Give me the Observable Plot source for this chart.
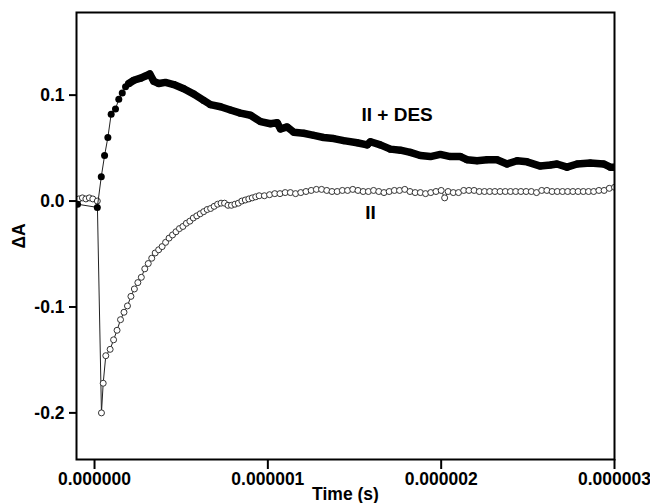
<!DOCTYPE html>
<html>
<head>
<meta charset="utf-8">
<script src="https://cdn.jsdelivr.net/npm/d3@7"></script>
<script src="https://cdn.jsdelivr.net/npm/@observablehq/plot@0.6"></script>
<style>
  html, body { margin: 0; padding: 0; background: white; }
</style>
</head>
<body>
<div id="chart"></div>
<script>
// Time in microseconds, ΔA values
const timeDES = [-0.098, 0.016, 0.039, 0.058, 0.077, 0.096, 0.121, 0.140, 0.160, 0.179, 0.198, 0.227, 0.265, 0.294, 0.319, 0.342, 0.371, 0.409, 0.457, 0.515, 0.573, 0.630, 0.669, 0.727, 0.784, 0.842, 0.900, 0.958, 1.015, 1.054, 1.073, 1.111, 1.149, 1.207, 1.265, 1.322, 1.380, 1.438, 1.515, 1.573, 1.592, 1.649, 1.707, 1.765, 1.822, 1.880, 1.938, 1.995, 2.053, 2.111, 2.149, 2.207, 2.265, 2.322, 2.380, 2.438, 2.495, 2.572, 2.630, 2.668, 2.726, 2.784, 2.860, 2.937, 2.976, 3.000];
const valuesDES = [-0.003, -0.006, 0.023, 0.043, 0.060, 0.082, 0.087, 0.096, 0.102, 0.108, 0.111, 0.114, 0.116, 0.118, 0.120, 0.113, 0.111, 0.112, 0.110, 0.106, 0.101, 0.095, 0.091, 0.089, 0.086, 0.083, 0.081, 0.075, 0.073, 0.074, 0.068, 0.070, 0.065, 0.064, 0.062, 0.060, 0.059, 0.057, 0.055, 0.053, 0.056, 0.053, 0.049, 0.048, 0.046, 0.043, 0.042, 0.044, 0.042, 0.042, 0.039, 0.038, 0.039, 0.039, 0.035, 0.038, 0.037, 0.033, 0.034, 0.035, 0.032, 0.035, 0.036, 0.035, 0.032, 0.032];

const timeII = [-0.09, -0.07, -0.05, -0.03, -0.01, 0.016, 0.04, 0.05, 0.065,
  0.09, 0.11, 0.13, 0.15, 0.17, 0.19, 0.21, 0.23, 0.25, 0.27,
  0.29, 0.31, 0.33, 0.35, 0.37, 0.39, 0.41, 0.43, 0.45, 0.47,
  0.49, 0.51, 0.53, 0.55, 0.57, 0.59, 0.61, 0.63, 0.65, 0.67,
  0.69, 0.71, 0.73, 0.75, 0.77, 0.79, 0.81, 0.83, 0.85, 0.87,
  0.89, 0.91, 0.93, 0.95,
  0.98, 1.01, 1.04, 1.07, 1.10, 1.13, 1.16, 1.19, 1.22, 1.25,
  1.28, 1.31, 1.34, 1.37, 1.40, 1.43, 1.46, 1.49, 1.52, 1.55,
  1.58, 1.61, 1.64, 1.67, 1.70, 1.73, 1.76, 1.79, 1.82, 1.85,
  1.88, 1.91, 1.94, 1.97, 2.00, 2.02, 2.04,
  2.07, 2.10, 2.13, 2.16, 2.19, 2.22, 2.25, 2.28, 2.31, 2.34,
  2.37, 2.40, 2.43, 2.46, 2.49, 2.52, 2.55, 2.58, 2.61, 2.64,
  2.67, 2.70, 2.73, 2.76, 2.79, 2.82, 2.85, 2.88, 2.91, 2.94,
  2.97, 3.00];
const valuesII = [0.002, 0.003, 0.002, 0.003, 0.002, 0.000, -0.200, -0.172, -0.146,
  -0.140, -0.131, -0.122, -0.112, -0.105, -0.099, -0.090, -0.083, -0.077, -0.072,
  -0.064, -0.059, -0.054, -0.049, -0.046, -0.043, -0.039, -0.035, -0.032, -0.029,
  -0.026, -0.024, -0.021, -0.019, -0.016, -0.014, -0.012, -0.010, -0.008, -0.007,
  -0.005, -0.003, -0.002, -0.002, -0.004, -0.004, -0.003, -0.002, 0.000, 0.001,
  0.002, 0.003, 0.004, 0.005,
  0.005, 0.006, 0.007, 0.007, 0.008, 0.008, 0.007, 0.008, 0.009, 0.010,
  0.011, 0.011, 0.010, 0.009, 0.009, 0.010, 0.010, 0.011, 0.010, 0.009,
  0.009, 0.010, 0.009, 0.008, 0.009, 0.010, 0.010, 0.011, 0.009, 0.008,
  0.008, 0.007, 0.008, 0.009, 0.010, 0.003, 0.009,
  0.008, 0.008, 0.010, 0.010, 0.010, 0.009, 0.009, 0.009, 0.009, 0.009,
  0.009, 0.009, 0.009, 0.009, 0.009, 0.009, 0.008, 0.010, 0.010, 0.009,
  0.009, 0.009, 0.009, 0.009, 0.009, 0.009, 0.009, 0.009, 0.010, 0.010,
  0.012, 0.013];

const xTicks = [0, 1e-6, 2e-6, 3e-6];
const yTicks = [-0.2, -0.1, 0.0, 0.1];
const seriesLabels = ["II + DES", "II"];
const labelTimes = [1.746, 1.592];
const labelValues = [0.081, -0.0115];

const toRows = (ts, vs) => ts.slice(0, Math.min(ts.length, vs.length)).map((t, i) => ({t: t * 1e-6, v: vs[i]}));
const des = toRows(timeDES, valuesDES);
const ii = toRows(timeII, valuesII);
const desDense = des.filter(d => d.t >= 0.179e-6);
const labels = seriesLabels.map((s, i) => ({s, t: labelTimes[i] * 1e-6, v: labelValues[i]}));

const chart = Plot.plot({
  width: 650,
  height: 503,
  marginLeft: 76,
  marginRight: 36,
  marginTop: 12,
  marginBottom: 44,
  style: {fontFamily: "'Liberation Sans', Arial, sans-serif", fontWeight: "bold", fontSize: "17.5px", background: "white", color: "black", overflow: "visible"},
  x: {domain: [-0.104e-6, 3e-6]},
  y: {domain: [-0.244, 0.178]},
  marks: [
    Plot.axisX({ticks: xTicks, tickFormat: d => d.toFixed(6), tickSize: 10, tickPadding: 3, strokeWidth: 2, fontSize: 17.5,
      label: "Time (s)", labelAnchor: "center", labelArrow: "none", labelOffset: 40.5}),
    Plot.axisY({ticks: yTicks, tickFormat: d => d.toFixed(1), tickSize: 7, tickPadding: 5, strokeWidth: 2, fontSize: 17.5,
      label: "ΔA", labelAnchor: "center", labelArrow: "none", labelOffset: 64}),
    Plot.line(ii, {x: "t", y: "v", stroke: "#222", strokeWidth: 1, clip: true}),
    Plot.dot(ii, {x: "t", y: "v", r: 3, fill: "white", stroke: "#333", strokeWidth: 1, clip: true}),
    Plot.line(des, {x: "t", y: "v", stroke: "#222", strokeWidth: 1, clip: true}),
    Plot.line(desDense, {x: "t", y: "v", stroke: "black", strokeWidth: 7.5, strokeLinejoin: "round", strokeLinecap: "round", clip: true}),
    Plot.dot(des, {x: "t", y: "v", r: 3.5, fill: "black", clip: true}),
    Plot.text(labels, {x: "t", y: "v", text: "s", fontSize: 19, fontWeight: "bold", fill: "black"}),
    Plot.frame({stroke: "black", strokeWidth: 2})
  ]
});
document.getElementById("chart").appendChild(chart);
</script>
</body>
</html>
